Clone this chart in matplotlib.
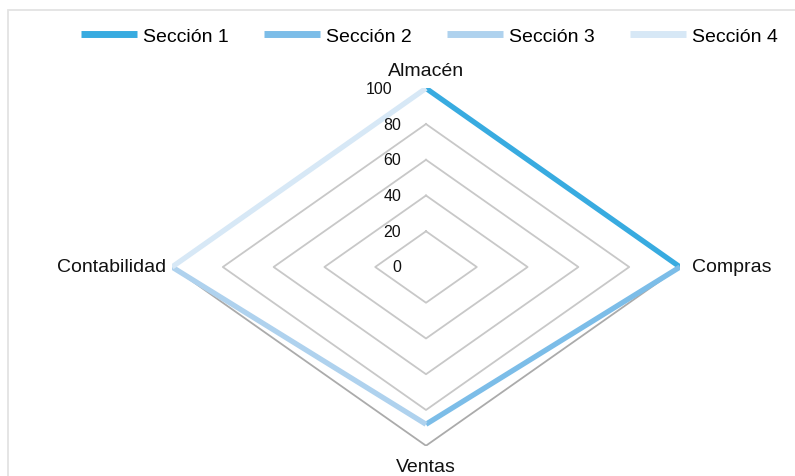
import numpy as np
import matplotlib
matplotlib.use("Agg")
import matplotlib.pyplot as plt
from matplotlib.patches import Rectangle

plt.rcParams['font.family'] = ['Liberation Sans', 'DejaVu Sans']

# Data
categories = ['Almacén', 'Compras', 'Ventas', 'Contabilidad']
series_names = ['Sección 1', 'Sección 2', 'Sección 3', 'Sección 4']
seccion_1 = [100, 100, np.nan, np.nan]
seccion_2 = [np.nan, 100, 88, np.nan]
seccion_3 = [np.nan, np.nan, 88, 100]
seccion_4 = [100, np.nan, np.nan, 100]
ring_values = [20, 40, 60, 80, 100]
tick_values = [0, 20, 40, 60, 80, 100]
r_max = 100

colors = ['#38ABE0', '#7CBDE8', '#AFD2EE', '#D7E8F6']

fig = plt.figure(figsize=(7.95, 4.77), dpi=100)
fig.patch.set_facecolor('white')

# Light chart-area frame
fig.add_artist(Rectangle((8 / 795, -0.2), 1.0, (477 - 11) / 477 + 0.2,
                         transform=fig.transFigure, fill=False,
                         edgecolor='#E3E3E3', linewidth=1.3))

ax = fig.add_axes([172 / 795, (477 - 446.7) / 477, 508 / 795, 357.4 / 477])
ax.set_xlim(-r_max, r_max)
ax.set_ylim(-r_max, r_max)
ax.axis('off')

n = len(categories)
theta = np.arange(n) * 2 * np.pi / n
theta_c = np.append(theta, theta[0])


def to_xy(vals):
    v = np.append(np.asarray(vals, dtype=float), vals[0])
    return v * np.sin(theta_c), v * np.cos(theta_c)


# Polygon gridlines
for rv in ring_values:
    gx, gy = to_xy([rv] * n)
    ax.plot(gx, gy, color='#ABABAB' if rv == r_max else '#C8C8C8',
            linewidth=1.3, zorder=1)

# Series
for name, vals, col in zip(series_names,
                           [seccion_1, seccion_2, seccion_3, seccion_4],
                           colors):
    sx, sy = to_xy(vals)
    ax.plot(sx, sy, color=col, linewidth=3.8, label=name,
            solid_capstyle='butt', zorder=3)

# Radial value labels along the top axis
for tv in tick_values:
    dx = -25 if tv != r_max else -34
    ax.annotate(str(tv), xy=(0, tv), xytext=(dx, 0),
                textcoords='offset pixels', ha='right', va='center',
                fontsize=11.5, color='#111111')

# Category labels
label_offsets = [(0, 18, 'center', 'center'), (12, 0, 'left', 'center'),
                 (0, -21, 'center', 'center'), (-6, 0, 'right', 'center')]
for cat, t, (ox, oy, ha, va) in zip(categories, theta, label_offsets):
    ax.annotate(cat, xy=(r_max * np.sin(t), r_max * np.cos(t)),
                xytext=(ox, oy), textcoords='offset pixels',
                ha=ha, va=va, fontsize=14, color='#111111')

leg = fig.legend(loc='center', bbox_to_anchor=(429.5 / 795, 1 - 37 / 477),
                 ncol=4, frameon=False, fontsize=14, handlelength=2.9,
                 handletextpad=0.3, columnspacing=1.8)
for h in leg.get_lines():
    h.set_linewidth(5)

fig.savefig('out.png', dpi=100)
